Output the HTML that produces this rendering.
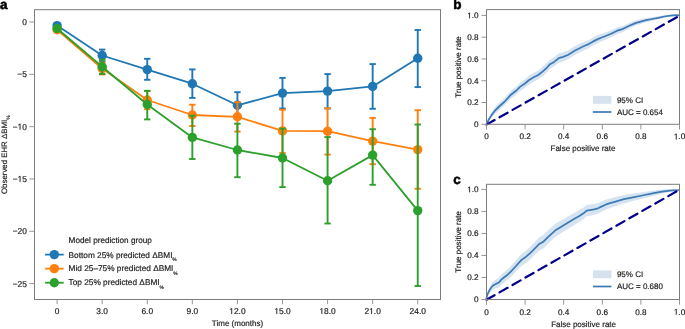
<!DOCTYPE html>
<html><head><meta charset="utf-8"><style>
html,body{margin:0;padding:0;background:#fff;}
svg{display:block;font-family:'Liberation Sans', sans-serif;text-rendering:geometricPrecision;will-change:transform;}
text{stroke:#1c1c1c;stroke-width:0.18px;}
</style></head><body>
<svg width="685" height="329" viewBox="0 0 685 329">
<rect width="685" height="329" fill="#fff"/>
<rect x="34.5" y="9.7" width="406.0" height="289.8" fill="none" stroke="#7c7c7c" stroke-width="1"/>
<line x1="29.3" y1="22.00" x2="34.5" y2="22.00" stroke="#8a8a8a" stroke-width="0.9"/>
<text x="22.23" y="24.90" font-size="8.4" fill="#1c1c1c">0</text>
<line x1="29.3" y1="74.32" x2="34.5" y2="74.32" stroke="#8a8a8a" stroke-width="0.9"/>
<text x="17.32" y="77.22" font-size="8.4" fill="#1c1c1c">&#8722;5</text>
<line x1="29.3" y1="126.64" x2="34.5" y2="126.64" stroke="#8a8a8a" stroke-width="0.9"/>
<text x="12.65" y="129.54" font-size="8.4" fill="#1c1c1c">&#8722;&#8199;0</text>
<polygon points="19.67,129.54 19.67,124.47 18.36,125.40 18.36,124.70 19.73,123.76 20.41,123.76 20.41,129.54" fill="#1c1c1c" stroke="#1c1c1c" stroke-width="0.18"/>
<line x1="29.3" y1="178.96" x2="34.5" y2="178.96" stroke="#8a8a8a" stroke-width="0.9"/>
<text x="12.65" y="181.86" font-size="8.4" fill="#1c1c1c">&#8722;&#8199;5</text>
<polygon points="19.67,181.86 19.67,176.79 18.36,177.72 18.36,177.02 19.73,176.08 20.41,176.08 20.41,181.86" fill="#1c1c1c" stroke="#1c1c1c" stroke-width="0.18"/>
<line x1="29.3" y1="231.28" x2="34.5" y2="231.28" stroke="#8a8a8a" stroke-width="0.9"/>
<text x="12.65" y="234.18" font-size="8.4" fill="#1c1c1c">&#8722;20</text>
<line x1="29.3" y1="283.60" x2="34.5" y2="283.60" stroke="#8a8a8a" stroke-width="0.9"/>
<text x="12.65" y="286.50" font-size="8.4" fill="#1c1c1c">&#8722;25</text>
<line x1="57.10" y1="299.5" x2="57.10" y2="304.2" stroke="#8a8a8a" stroke-width="0.9"/>
<text x="54.76" y="314.00" font-size="8.4" fill="#1c1c1c">0</text>
<line x1="102.18" y1="299.5" x2="102.18" y2="304.2" stroke="#8a8a8a" stroke-width="0.9"/>
<text x="96.34" y="314.00" font-size="8.4" fill="#1c1c1c">3.0</text>
<line x1="147.26" y1="299.5" x2="147.26" y2="304.2" stroke="#8a8a8a" stroke-width="0.9"/>
<text x="141.42" y="314.00" font-size="8.4" fill="#1c1c1c">6.0</text>
<line x1="192.34" y1="299.5" x2="192.34" y2="304.2" stroke="#8a8a8a" stroke-width="0.9"/>
<text x="186.50" y="314.00" font-size="8.4" fill="#1c1c1c">9.0</text>
<line x1="237.42" y1="299.5" x2="237.42" y2="304.2" stroke="#8a8a8a" stroke-width="0.9"/>
<text x="229.25" y="314.00" font-size="8.4" fill="#1c1c1c">&#8199;2.0</text>
<polygon points="231.36,314.00 231.36,308.93 230.05,309.86 230.05,309.16 231.42,308.22 232.10,308.22 232.10,314.00" fill="#1c1c1c" stroke="#1c1c1c" stroke-width="0.18"/>
<line x1="282.50" y1="299.5" x2="282.50" y2="304.2" stroke="#8a8a8a" stroke-width="0.9"/>
<text x="274.33" y="314.00" font-size="8.4" fill="#1c1c1c">&#8199;5.0</text>
<polygon points="276.44,314.00 276.44,308.93 275.13,309.86 275.13,309.16 276.50,308.22 277.18,308.22 277.18,314.00" fill="#1c1c1c" stroke="#1c1c1c" stroke-width="0.18"/>
<line x1="327.58" y1="299.5" x2="327.58" y2="304.2" stroke="#8a8a8a" stroke-width="0.9"/>
<text x="319.41" y="314.00" font-size="8.4" fill="#1c1c1c">&#8199;8.0</text>
<polygon points="321.52,314.00 321.52,308.93 320.21,309.86 320.21,309.16 321.58,308.22 322.26,308.22 322.26,314.00" fill="#1c1c1c" stroke="#1c1c1c" stroke-width="0.18"/>
<line x1="372.66" y1="299.5" x2="372.66" y2="304.2" stroke="#8a8a8a" stroke-width="0.9"/>
<text x="364.49" y="314.00" font-size="8.4" fill="#1c1c1c">2&#8199;.0</text>
<polygon points="371.27,314.00 371.27,308.93 369.97,309.86 369.97,309.16 371.33,308.22 372.01,308.22 372.01,314.00" fill="#1c1c1c" stroke="#1c1c1c" stroke-width="0.18"/>
<line x1="417.74" y1="299.5" x2="417.74" y2="304.2" stroke="#8a8a8a" stroke-width="0.9"/>
<text x="409.57" y="314.00" font-size="8.4" fill="#1c1c1c">24.0</text>
<text x="237.5" y="325.8" font-size="8" text-anchor="middle" font-weight="normal" fill="#1c1c1c" >Time (months)</text>
<text transform="translate(7.4,154.7) rotate(-90)" font-size="7.85" text-anchor="middle" fill="#1c1c1c">Observed EHR &#916;BMI<tspan font-size="5" dy="2.6">%</tspan></text>
<g><line x1="102.18" y1="49.6" x2="102.18" y2="61.2" stroke="#1f77b4" stroke-width="1.9"/><line x1="98.98" y1="49.6" x2="105.38" y2="49.6" stroke="#1f77b4" stroke-width="1.9"/><line x1="98.98" y1="61.2" x2="105.38" y2="61.2" stroke="#1f77b4" stroke-width="1.9"/><line x1="147.26" y1="58.8" x2="147.26" y2="79.8" stroke="#1f77b4" stroke-width="1.9"/><line x1="144.06" y1="58.8" x2="150.46" y2="58.8" stroke="#1f77b4" stroke-width="1.9"/><line x1="144.06" y1="79.8" x2="150.46" y2="79.8" stroke="#1f77b4" stroke-width="1.9"/><line x1="192.34" y1="69.4" x2="192.34" y2="97.9" stroke="#1f77b4" stroke-width="1.9"/><line x1="189.14" y1="69.4" x2="195.54" y2="69.4" stroke="#1f77b4" stroke-width="1.9"/><line x1="189.14" y1="97.9" x2="195.54" y2="97.9" stroke="#1f77b4" stroke-width="1.9"/><line x1="237.42" y1="92.2" x2="237.42" y2="118.4" stroke="#1f77b4" stroke-width="1.9"/><line x1="234.22" y1="92.2" x2="240.62" y2="92.2" stroke="#1f77b4" stroke-width="1.9"/><line x1="234.22" y1="118.4" x2="240.62" y2="118.4" stroke="#1f77b4" stroke-width="1.9"/><line x1="282.50" y1="77.9" x2="282.50" y2="108.5" stroke="#1f77b4" stroke-width="1.9"/><line x1="279.30" y1="77.9" x2="285.70" y2="77.9" stroke="#1f77b4" stroke-width="1.9"/><line x1="279.30" y1="108.5" x2="285.70" y2="108.5" stroke="#1f77b4" stroke-width="1.9"/><line x1="327.58" y1="74.1" x2="327.58" y2="108.5" stroke="#1f77b4" stroke-width="1.9"/><line x1="324.38" y1="74.1" x2="330.78" y2="74.1" stroke="#1f77b4" stroke-width="1.9"/><line x1="324.38" y1="108.5" x2="330.78" y2="108.5" stroke="#1f77b4" stroke-width="1.9"/><line x1="372.66" y1="64.1" x2="372.66" y2="108.8" stroke="#1f77b4" stroke-width="1.9"/><line x1="369.46" y1="64.1" x2="375.86" y2="64.1" stroke="#1f77b4" stroke-width="1.9"/><line x1="369.46" y1="108.8" x2="375.86" y2="108.8" stroke="#1f77b4" stroke-width="1.9"/><line x1="417.74" y1="30.0" x2="417.74" y2="87.1" stroke="#1f77b4" stroke-width="1.9"/><line x1="414.54" y1="30.0" x2="420.94" y2="30.0" stroke="#1f77b4" stroke-width="1.9"/><line x1="414.54" y1="87.1" x2="420.94" y2="87.1" stroke="#1f77b4" stroke-width="1.9"/><polyline points="57.10,25.6 102.18,55.5 147.26,69.6 192.34,83.7 237.42,105.3 282.50,93.1 327.58,91.1 372.66,86.4 417.74,58.2" fill="none" stroke="#1f77b4" stroke-width="1.8" stroke-linejoin="round"/><circle cx="57.10" cy="25.6" r="4.7" fill="#1f77b4"/><circle cx="102.18" cy="55.5" r="4.7" fill="#1f77b4"/><circle cx="147.26" cy="69.6" r="4.7" fill="#1f77b4"/><circle cx="192.34" cy="83.7" r="4.7" fill="#1f77b4"/><circle cx="237.42" cy="105.3" r="4.7" fill="#1f77b4"/><circle cx="282.50" cy="93.1" r="4.7" fill="#1f77b4"/><circle cx="327.58" cy="91.1" r="4.7" fill="#1f77b4"/><circle cx="372.66" cy="86.4" r="4.7" fill="#1f77b4"/><circle cx="417.74" cy="58.2" r="4.7" fill="#1f77b4"/></g>
<g><line x1="102.18" y1="62.6" x2="102.18" y2="74.4" stroke="#ff7f0e" stroke-width="1.9"/><line x1="98.98" y1="62.6" x2="105.38" y2="62.6" stroke="#ff7f0e" stroke-width="1.9"/><line x1="98.98" y1="74.4" x2="105.38" y2="74.4" stroke="#ff7f0e" stroke-width="1.9"/><line x1="147.26" y1="91.0" x2="147.26" y2="109.2" stroke="#ff7f0e" stroke-width="1.9"/><line x1="144.06" y1="91.0" x2="150.46" y2="91.0" stroke="#ff7f0e" stroke-width="1.9"/><line x1="144.06" y1="109.2" x2="150.46" y2="109.2" stroke="#ff7f0e" stroke-width="1.9"/><line x1="192.34" y1="104.7" x2="192.34" y2="126.0" stroke="#ff7f0e" stroke-width="1.9"/><line x1="189.14" y1="104.7" x2="195.54" y2="104.7" stroke="#ff7f0e" stroke-width="1.9"/><line x1="189.14" y1="126.0" x2="195.54" y2="126.0" stroke="#ff7f0e" stroke-width="1.9"/><line x1="237.42" y1="102.2" x2="237.42" y2="131.6" stroke="#ff7f0e" stroke-width="1.9"/><line x1="234.22" y1="102.2" x2="240.62" y2="102.2" stroke="#ff7f0e" stroke-width="1.9"/><line x1="234.22" y1="131.6" x2="240.62" y2="131.6" stroke="#ff7f0e" stroke-width="1.9"/><line x1="282.50" y1="109.7" x2="282.50" y2="153.0" stroke="#ff7f0e" stroke-width="1.9"/><line x1="279.30" y1="109.7" x2="285.70" y2="109.7" stroke="#ff7f0e" stroke-width="1.9"/><line x1="279.30" y1="153.0" x2="285.70" y2="153.0" stroke="#ff7f0e" stroke-width="1.9"/><line x1="327.58" y1="108.3" x2="327.58" y2="154.6" stroke="#ff7f0e" stroke-width="1.9"/><line x1="324.38" y1="108.3" x2="330.78" y2="108.3" stroke="#ff7f0e" stroke-width="1.9"/><line x1="324.38" y1="154.6" x2="330.78" y2="154.6" stroke="#ff7f0e" stroke-width="1.9"/><line x1="372.66" y1="117.9" x2="372.66" y2="164.2" stroke="#ff7f0e" stroke-width="1.9"/><line x1="369.46" y1="117.9" x2="375.86" y2="117.9" stroke="#ff7f0e" stroke-width="1.9"/><line x1="369.46" y1="164.2" x2="375.86" y2="164.2" stroke="#ff7f0e" stroke-width="1.9"/><line x1="417.74" y1="110.2" x2="417.74" y2="188.8" stroke="#ff7f0e" stroke-width="1.9"/><line x1="414.54" y1="110.2" x2="420.94" y2="110.2" stroke="#ff7f0e" stroke-width="1.9"/><line x1="414.54" y1="188.8" x2="420.94" y2="188.8" stroke="#ff7f0e" stroke-width="1.9"/><polyline points="57.10,29.7 102.18,68.6 147.26,100.0 192.34,115.0 237.42,116.8 282.50,130.9 327.58,131.2 372.66,141.1 417.74,149.6" fill="none" stroke="#ff7f0e" stroke-width="1.8" stroke-linejoin="round"/><circle cx="57.10" cy="29.7" r="4.7" fill="#ff7f0e"/><circle cx="102.18" cy="68.6" r="4.7" fill="#ff7f0e"/><circle cx="147.26" cy="100.0" r="4.7" fill="#ff7f0e"/><circle cx="192.34" cy="115.0" r="4.7" fill="#ff7f0e"/><circle cx="237.42" cy="116.8" r="4.7" fill="#ff7f0e"/><circle cx="282.50" cy="130.9" r="4.7" fill="#ff7f0e"/><circle cx="327.58" cy="131.2" r="4.7" fill="#ff7f0e"/><circle cx="372.66" cy="141.1" r="4.7" fill="#ff7f0e"/><circle cx="417.74" cy="149.6" r="4.7" fill="#ff7f0e"/></g>
<g><line x1="102.18" y1="59.6" x2="102.18" y2="74.0" stroke="#2ca02c" stroke-width="1.9"/><line x1="98.98" y1="59.6" x2="105.38" y2="59.6" stroke="#2ca02c" stroke-width="1.9"/><line x1="98.98" y1="74.0" x2="105.38" y2="74.0" stroke="#2ca02c" stroke-width="1.9"/><line x1="147.26" y1="90.8" x2="147.26" y2="119.4" stroke="#2ca02c" stroke-width="1.9"/><line x1="144.06" y1="90.8" x2="150.46" y2="90.8" stroke="#2ca02c" stroke-width="1.9"/><line x1="144.06" y1="119.4" x2="150.46" y2="119.4" stroke="#2ca02c" stroke-width="1.9"/><line x1="192.34" y1="115.7" x2="192.34" y2="159.0" stroke="#2ca02c" stroke-width="1.9"/><line x1="189.14" y1="115.7" x2="195.54" y2="115.7" stroke="#2ca02c" stroke-width="1.9"/><line x1="189.14" y1="159.0" x2="195.54" y2="159.0" stroke="#2ca02c" stroke-width="1.9"/><line x1="237.42" y1="123.7" x2="237.42" y2="177.2" stroke="#2ca02c" stroke-width="1.9"/><line x1="234.22" y1="123.7" x2="240.62" y2="123.7" stroke="#2ca02c" stroke-width="1.9"/><line x1="234.22" y1="177.2" x2="240.62" y2="177.2" stroke="#2ca02c" stroke-width="1.9"/><line x1="282.50" y1="128.6" x2="282.50" y2="187.1" stroke="#2ca02c" stroke-width="1.9"/><line x1="279.30" y1="128.6" x2="285.70" y2="128.6" stroke="#2ca02c" stroke-width="1.9"/><line x1="279.30" y1="187.1" x2="285.70" y2="187.1" stroke="#2ca02c" stroke-width="1.9"/><line x1="327.58" y1="137.1" x2="327.58" y2="223.5" stroke="#2ca02c" stroke-width="1.9"/><line x1="324.38" y1="137.1" x2="330.78" y2="137.1" stroke="#2ca02c" stroke-width="1.9"/><line x1="324.38" y1="223.5" x2="330.78" y2="223.5" stroke="#2ca02c" stroke-width="1.9"/><line x1="372.66" y1="129.2" x2="372.66" y2="184.8" stroke="#2ca02c" stroke-width="1.9"/><line x1="369.46" y1="129.2" x2="375.86" y2="129.2" stroke="#2ca02c" stroke-width="1.9"/><line x1="369.46" y1="184.8" x2="375.86" y2="184.8" stroke="#2ca02c" stroke-width="1.9"/><line x1="417.74" y1="124.5" x2="417.74" y2="286.0" stroke="#2ca02c" stroke-width="1.9"/><line x1="414.54" y1="124.5" x2="420.94" y2="124.5" stroke="#2ca02c" stroke-width="1.9"/><line x1="414.54" y1="286.0" x2="420.94" y2="286.0" stroke="#2ca02c" stroke-width="1.9"/><polyline points="57.10,28.5 102.18,66.8 147.26,104.5 192.34,137.4 237.42,150.0 282.50,158.0 327.58,180.8 372.66,155.1 417.74,210.6" fill="none" stroke="#2ca02c" stroke-width="1.8" stroke-linejoin="round"/><circle cx="57.10" cy="28.5" r="4.7" fill="#2ca02c"/><circle cx="102.18" cy="66.8" r="4.7" fill="#2ca02c"/><circle cx="147.26" cy="104.5" r="4.7" fill="#2ca02c"/><circle cx="192.34" cy="137.4" r="4.7" fill="#2ca02c"/><circle cx="237.42" cy="150.0" r="4.7" fill="#2ca02c"/><circle cx="282.50" cy="158.0" r="4.7" fill="#2ca02c"/><circle cx="327.58" cy="180.8" r="4.7" fill="#2ca02c"/><circle cx="372.66" cy="155.1" r="4.7" fill="#2ca02c"/><circle cx="417.74" cy="210.6" r="4.7" fill="#2ca02c"/></g>
<text x="68.6" y="243.4" font-size="8.2" text-anchor="start" font-weight="normal" fill="#1c1c1c" >Model prediction group</text>
<line x1="45.1" y1="254.6" x2="63.7" y2="254.6" stroke="#1f77b4" stroke-width="1.8"/>
<circle cx="54.3" cy="254.6" r="4.7" fill="#1f77b4"/>
<text x="68.6" y="257.55" font-size="8.28" fill="#1c1c1c">Bottom 25% predicted &#916;BMI<tspan font-size="4.9" dx="-0.2" dy="3.5">%</tspan></text>
<line x1="45.1" y1="268.65" x2="63.7" y2="268.65" stroke="#ff7f0e" stroke-width="1.8"/>
<circle cx="54.3" cy="268.65" r="4.7" fill="#ff7f0e"/>
<text x="68.6" y="271.30" font-size="8.28" fill="#1c1c1c">Mid 25&#8211;75% predicted &#916;BMI<tspan font-size="4.9" dx="-0.2" dy="3.5">%</tspan></text>
<line x1="45.1" y1="282.7" x2="63.7" y2="282.7" stroke="#2ca02c" stroke-width="1.8"/>
<circle cx="54.3" cy="282.7" r="4.7" fill="#2ca02c"/>
<text x="68.6" y="285.05" font-size="8.28" fill="#1c1c1c">Top 25% predicted &#916;BMI<tspan font-size="4.9" dx="-0.2" dy="3.5">%</tspan></text>
<text x="0.0" y="9.0" font-size="13.5" text-anchor="start" font-weight="bold" fill="#000"  style="stroke:#000;stroke-width:0.5px">a</text>
<polygon points="486.4,124.3 488.7,117.6 491.5,112.5 495.1,107.1 499.7,102.3 504.3,98.2 510.3,91.3 516.4,86.4 520.0,82.7 524.6,79.4 529.1,75.6 533.7,72.8 538.2,70.4 542.8,66.6 547.3,62.5 549.6,59.9 554.1,57.2 558.7,53.6 563.2,52.3 567.8,50.5 572.3,47.8 575.0,46.1 579.6,43.8 584.1,41.7 588.7,39.9 593.2,37.2 597.8,35.1 602.3,33.5 605.0,32.5 611.1,30.2 617.2,27.4 623.2,25.7 629.3,23.0 635.4,20.5 641.5,19.0 646.1,18.1 652.2,17.2 658.2,16.3 664.3,15.3 670.4,14.8 676.5,14.5 679.4,15.4 679.4,15.7 676.5,15.7 670.4,16.6 664.3,17.7 658.2,19.3 652.2,20.8 646.1,22.3 641.5,23.8 635.4,25.7 629.3,28.6 623.2,31.9 617.2,34.0 611.1,37.2 605.0,39.9 602.3,41.1 597.8,43.1 593.2,45.6 588.7,48.3 584.1,50.3 579.6,52.6 575.0,54.9 572.3,56.8 567.8,59.5 563.2,61.5 558.7,62.8 554.1,66.6 549.6,69.3 547.3,72.1 542.8,76.2 538.2,79.6 533.7,81.8 529.1,84.4 524.6,88.0 520.0,91.1 516.4,94.6 510.3,99.3 504.3,105.8 499.7,109.7 495.1,113.9 491.5,117.7 488.7,121.8 486.4,124.3" fill="#d6e4f1" stroke="none"/>
<polyline points="486.4,124.3 488.7,119.7 491.5,115.1 495.1,110.5 499.7,106.0 504.3,102.0 510.3,95.3 516.4,90.5 520,86.9 524.6,83.7 529.1,80.0 533.7,77.3 538.2,75.0 542.8,71.4 547.3,67.3 549.6,64.6 554.1,61.9 558.7,58.2 563.2,56.9 567.8,55.0 572.3,52.3 575,50.5 579.6,48.2 584.1,46.0 588.7,44.1 593.2,41.4 597.8,39.1 602.3,37.3 605,36.2 611.1,33.7 617.2,30.7 623.2,28.8 629.3,25.8 635.4,23.1 641.5,21.4 646.1,20.2 652.2,19.0 658.2,17.8 664.3,16.5 670.4,15.7 676.5,15.1 679.4,15.3" fill="none" stroke="#3d7ab6" stroke-width="1.75" stroke-linejoin="round"/>
<line x1="486.5" y1="124.6" x2="679.5" y2="15.700000000000001" stroke="#00008b" stroke-width="2.2" stroke-linecap="round" stroke-dasharray="9.3 5.65"/>
<rect x="486.5" y="9.6" width="193.0" height="114.7" fill="none" stroke="#7c7c7c" stroke-width="1"/>
<line x1="481.4" y1="124.30" x2="486.5" y2="124.30" stroke="#8a8a8a" stroke-width="0.9"/>
<text x="474.04" y="127.20" font-size="8.2" fill="#1c1c1c">0</text>
<line x1="486.50" y1="124.3" x2="486.50" y2="129.50" stroke="#8a8a8a" stroke-width="0.9"/>
<text x="484.22" y="139.40" font-size="8.2" fill="#1c1c1c">0</text>
<line x1="481.4" y1="102.52" x2="486.5" y2="102.52" stroke="#8a8a8a" stroke-width="0.9"/>
<text x="467.20" y="105.42" font-size="8.2" fill="#1c1c1c">0.2</text>
<line x1="525.10" y1="124.3" x2="525.10" y2="129.50" stroke="#8a8a8a" stroke-width="0.9"/>
<text x="519.40" y="139.40" font-size="8.2" fill="#1c1c1c">0.2</text>
<line x1="481.4" y1="80.74" x2="486.5" y2="80.74" stroke="#8a8a8a" stroke-width="0.9"/>
<text x="467.20" y="83.64" font-size="8.2" fill="#1c1c1c">0.4</text>
<line x1="563.70" y1="124.3" x2="563.70" y2="129.50" stroke="#8a8a8a" stroke-width="0.9"/>
<text x="558.00" y="139.40" font-size="8.2" fill="#1c1c1c">0.4</text>
<line x1="481.4" y1="58.96" x2="486.5" y2="58.96" stroke="#8a8a8a" stroke-width="0.9"/>
<text x="467.20" y="61.86" font-size="8.2" fill="#1c1c1c">0.6</text>
<line x1="602.30" y1="124.3" x2="602.30" y2="129.50" stroke="#8a8a8a" stroke-width="0.9"/>
<text x="596.60" y="139.40" font-size="8.2" fill="#1c1c1c">0.6</text>
<line x1="481.4" y1="37.18" x2="486.5" y2="37.18" stroke="#8a8a8a" stroke-width="0.9"/>
<text x="467.20" y="40.08" font-size="8.2" fill="#1c1c1c">0.8</text>
<line x1="640.90" y1="124.3" x2="640.90" y2="129.50" stroke="#8a8a8a" stroke-width="0.9"/>
<text x="635.20" y="139.40" font-size="8.2" fill="#1c1c1c">0.8</text>
<line x1="481.4" y1="15.40" x2="486.5" y2="15.40" stroke="#8a8a8a" stroke-width="0.9"/>
<text x="467.20" y="18.30" font-size="8.2" fill="#1c1c1c">&#8199;.0</text>
<polygon points="469.26,18.30 469.26,13.35 467.99,14.26 467.99,13.58 469.32,12.66 469.99,12.66 469.99,18.30" fill="#1c1c1c" stroke="#1c1c1c" stroke-width="0.18"/>
<line x1="679.50" y1="124.3" x2="679.50" y2="129.50" stroke="#8a8a8a" stroke-width="0.9"/>
<text x="673.80" y="139.40" font-size="8.2" fill="#1c1c1c">&#8199;.0</text>
<polygon points="675.86,139.40 675.86,134.45 674.59,135.36 674.59,134.68 675.92,133.76 676.59,133.76 676.59,139.40" fill="#1c1c1c" stroke="#1c1c1c" stroke-width="0.18"/>
<text x="583.00" y="151.30" font-size="8" text-anchor="middle" font-weight="normal" fill="#1c1c1c" >False positive rate</text>
<text transform="translate(460.7,66.95) rotate(-90)" font-size="8" text-anchor="middle" fill="#1c1c1c">True positive rate</text>
<rect x="592.9" y="95.90" width="18.5" height="7.9" fill="#d6e3ef"/>
<text x="616.9" y="102.60" font-size="8" text-anchor="start" font-weight="normal" fill="#1c1c1c" >95% CI</text>
<line x1="592.9" y1="112.00" x2="611.4" y2="112.00" stroke="#3a78b5" stroke-width="1.7"/>
<text x="616.9" y="114.80" font-size="8" text-anchor="start" font-weight="normal" fill="#1c1c1c" >AUC = 0.654</text>
<text x="453.3" y="8.9" font-size="13.5" text-anchor="start" font-weight="bold" fill="#000"  style="stroke:#000;stroke-width:0.5px">b</text>
<polygon points="486.4,299.0 486.4,298.0 487.8,291.9 489.7,286.9 491.6,283.3 493.5,280.9 495.4,279.8 497.3,278.6 499.2,277.4 501.0,274.8 503.9,272.3 507.6,269.3 510.6,266.3 516.0,260.2 521.3,254.1 525.3,251.2 529.9,247.1 534.7,242.1 539.6,237.1 543.2,235.1 549.3,229.1 555.4,223.8 558.0,222.2 563.3,219.2 568.6,216.1 574.0,213.0 579.3,210.1 583.5,207.5 586.7,204.9 589.9,204.4 594.2,203.9 598.0,202.9 601.9,201.2 605.5,199.7 610.0,198.4 614.7,197.3 623.9,195.0 633.0,193.5 642.1,192.2 651.2,190.9 660.4,189.6 669.5,189.2 678.6,189.4 679.4,189.4 679.4,190.3 678.6,190.6 669.5,192.0 660.4,194.2 651.2,196.5 642.1,198.8 633.0,201.1 623.9,203.4 614.7,206.5 610.0,208.0 605.5,209.7 601.9,211.6 598.0,213.7 594.2,214.9 589.9,215.8 586.7,216.3 583.5,219.1 579.3,221.9 574.0,225.2 568.6,228.5 563.3,231.8 558.0,235.2 555.4,236.8 549.3,242.5 543.2,248.7 539.6,250.3 534.7,255.1 529.9,259.7 525.3,263.4 521.3,266.1 516.0,271.8 510.6,277.3 507.6,280.1 503.9,282.7 501.0,285.0 499.2,287.2 497.3,287.8 495.4,288.6 493.5,289.3 491.6,290.7 489.7,292.7 487.8,295.3 486.4,298.6 486.4,299.5" fill="#d6e4f1" stroke="none"/>
<polyline points="486.4,299.3 486.4,298.3 487.8,293.6 489.7,289.8 491.6,287.0 493.5,285.1 495.4,284.2 497.3,283.2 499.2,282.3 501,279.9 503.9,277.5 507.6,274.7 510.6,271.8 516,266 521.3,260.1 525.3,257.3 529.9,253.4 534.7,248.6 539.6,243.7 543.2,241.9 549.3,235.8 555.4,230.3 558,228.7 563.3,225.5 568.6,222.3 574,219.1 579.3,216.0 583.5,213.3 586.7,210.6 589.9,210.1 594.2,209.4 598,208.3 601.9,206.4 605.5,204.7 610,203.2 614.7,201.9 623.9,199.2 633,197.3 642.1,195.5 651.2,193.7 660.4,191.9 669.5,190.6 678.6,190.0 679.4,189.8" fill="none" stroke="#3d7ab6" stroke-width="1.75" stroke-linejoin="round"/>
<line x1="486.5" y1="299.8" x2="679.5" y2="189.70000000000002" stroke="#00008b" stroke-width="2.2" stroke-linecap="round" stroke-dasharray="9.3 5.65"/>
<rect x="486.5" y="184.3" width="193.0" height="115.19999999999999" fill="none" stroke="#7c7c7c" stroke-width="1"/>
<line x1="481.4" y1="299.50" x2="486.5" y2="299.50" stroke="#8a8a8a" stroke-width="0.9"/>
<text x="474.04" y="302.40" font-size="8.2" fill="#1c1c1c">0</text>
<line x1="486.50" y1="299.5" x2="486.50" y2="304.70" stroke="#8a8a8a" stroke-width="0.9"/>
<text x="484.22" y="314.60" font-size="8.2" fill="#1c1c1c">0</text>
<line x1="481.4" y1="277.48" x2="486.5" y2="277.48" stroke="#8a8a8a" stroke-width="0.9"/>
<text x="467.20" y="280.38" font-size="8.2" fill="#1c1c1c">0.2</text>
<line x1="525.10" y1="299.5" x2="525.10" y2="304.70" stroke="#8a8a8a" stroke-width="0.9"/>
<text x="519.40" y="314.60" font-size="8.2" fill="#1c1c1c">0.2</text>
<line x1="481.4" y1="255.46" x2="486.5" y2="255.46" stroke="#8a8a8a" stroke-width="0.9"/>
<text x="467.20" y="258.36" font-size="8.2" fill="#1c1c1c">0.4</text>
<line x1="563.70" y1="299.5" x2="563.70" y2="304.70" stroke="#8a8a8a" stroke-width="0.9"/>
<text x="558.00" y="314.60" font-size="8.2" fill="#1c1c1c">0.4</text>
<line x1="481.4" y1="233.44" x2="486.5" y2="233.44" stroke="#8a8a8a" stroke-width="0.9"/>
<text x="467.20" y="236.34" font-size="8.2" fill="#1c1c1c">0.6</text>
<line x1="602.30" y1="299.5" x2="602.30" y2="304.70" stroke="#8a8a8a" stroke-width="0.9"/>
<text x="596.60" y="314.60" font-size="8.2" fill="#1c1c1c">0.6</text>
<line x1="481.4" y1="211.42" x2="486.5" y2="211.42" stroke="#8a8a8a" stroke-width="0.9"/>
<text x="467.20" y="214.32" font-size="8.2" fill="#1c1c1c">0.8</text>
<line x1="640.90" y1="299.5" x2="640.90" y2="304.70" stroke="#8a8a8a" stroke-width="0.9"/>
<text x="635.20" y="314.60" font-size="8.2" fill="#1c1c1c">0.8</text>
<line x1="481.4" y1="189.40" x2="486.5" y2="189.40" stroke="#8a8a8a" stroke-width="0.9"/>
<text x="467.20" y="192.30" font-size="8.2" fill="#1c1c1c">&#8199;.0</text>
<polygon points="469.26,192.30 469.26,187.35 467.99,188.26 467.99,187.58 469.32,186.66 469.99,186.66 469.99,192.30" fill="#1c1c1c" stroke="#1c1c1c" stroke-width="0.18"/>
<line x1="679.50" y1="299.5" x2="679.50" y2="304.70" stroke="#8a8a8a" stroke-width="0.9"/>
<text x="673.80" y="314.60" font-size="8.2" fill="#1c1c1c">&#8199;.0</text>
<polygon points="675.86,314.60 675.86,309.65 674.59,310.56 674.59,309.88 675.92,308.96 676.59,308.96 676.59,314.60" fill="#1c1c1c" stroke="#1c1c1c" stroke-width="0.18"/>
<text x="583.60" y="327.20" font-size="8" text-anchor="middle" font-weight="normal" fill="#1c1c1c" >False positive rate</text>
<text transform="translate(460.7,241.90) rotate(-90)" font-size="8" text-anchor="middle" fill="#1c1c1c">True positive rate</text>
<rect x="592.9" y="270.40" width="18.5" height="7.9" fill="#d6e3ef"/>
<text x="616.9" y="277.10" font-size="8" text-anchor="start" font-weight="normal" fill="#1c1c1c" >95% CI</text>
<line x1="592.9" y1="286.50" x2="611.4" y2="286.50" stroke="#3a78b5" stroke-width="1.7"/>
<text x="616.9" y="289.30" font-size="8" text-anchor="start" font-weight="normal" fill="#1c1c1c" >AUC = 0.680</text>
<text x="453.3" y="183.7" font-size="13.5" text-anchor="start" font-weight="bold" fill="#000"  style="stroke:#000;stroke-width:0.5px">c</text>
</svg>
</body></html>
